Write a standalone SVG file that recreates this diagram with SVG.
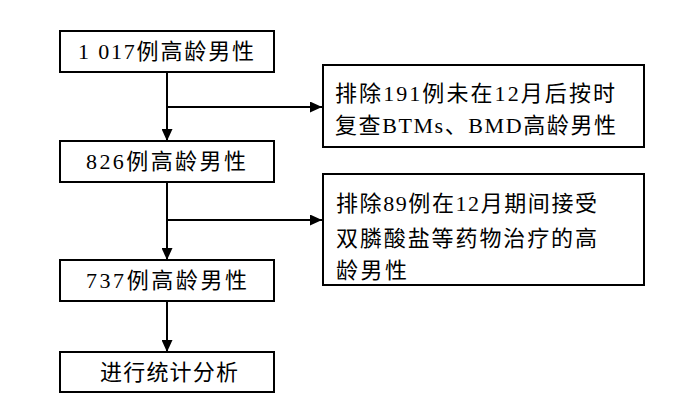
<svg xmlns="http://www.w3.org/2000/svg" width="700" height="400" viewBox="0 0 700 400">
<style>
.box{fill:#fff;stroke:#000;stroke-width:2}
.t{font-family:"Liberation Serif","Noto Sans CJK SC",serif;font-size:22px;fill:#000}
.ln{stroke:#000;stroke-width:2;fill:none}
</style>
<defs>
<marker id="av" viewBox="0 0 10 10" refX="10" refY="5" markerWidth="12" markerHeight="11" orient="auto" markerUnits="userSpaceOnUse" preserveAspectRatio="none">
<path d="M0,0 L10,5 L0,10 z" fill="#000"/>
</marker>
</defs>
<g id="connectors">
<line class="ln" x1="167" y1="72" x2="167" y2="141" marker-end="url(#av)"/>
<line class="ln" x1="167" y1="107" x2="322" y2="107" marker-end="url(#av)"/>
<line class="ln" x1="167" y1="182" x2="167" y2="260" marker-end="url(#av)"/>
<line class="ln" x1="167" y1="220" x2="322" y2="220" marker-end="url(#av)"/>
<line class="ln" x1="167" y1="301" x2="167" y2="352" marker-end="url(#av)"/>
</g>
<g id="n1">
<rect class="box" x="60" y="31" width="214" height="41"/>
<text class="t" x="78" y="59" textLength="176" lengthAdjust="spacing">1 017例高龄男性</text>
</g>
<g id="n2">
<rect class="box" x="323" y="65" width="321" height="82"/>
<text class="t" x="335" y="101" textLength="280" lengthAdjust="spacing">排除191例未在12月后按时</text>
<text class="t" x="335" y="133" textLength="281" lengthAdjust="spacing">复查BTMs、BMD高龄男性</text>
</g>
<g id="n3">
<rect class="box" x="60" y="141" width="214" height="41"/>
<text class="t" x="86" y="169" textLength="160" lengthAdjust="spacing">826例高龄男性</text>
</g>
<g id="n4">
<rect class="box" x="323" y="174" width="321" height="111"/>
<text class="t" x="336" y="211" textLength="261" lengthAdjust="spacing">排除89例在12月期间接受</text>
<text class="t" x="336" y="246" textLength="261" lengthAdjust="spacing">双膦酸盐等药物治疗的高</text>
<text class="t" x="336" y="278" textLength="71" lengthAdjust="spacing">龄男性</text>
</g>
<g id="n5">
<rect class="box" x="60" y="260" width="214" height="41"/>
<text class="t" x="86" y="288" textLength="161" lengthAdjust="spacing">737例高龄男性</text>
</g>
<g id="n6">
<rect class="box" x="60" y="352" width="214" height="40"/>
<text class="t" x="100" y="380" textLength="138" lengthAdjust="spacing">进行统计分析</text>
</g>
</svg>
